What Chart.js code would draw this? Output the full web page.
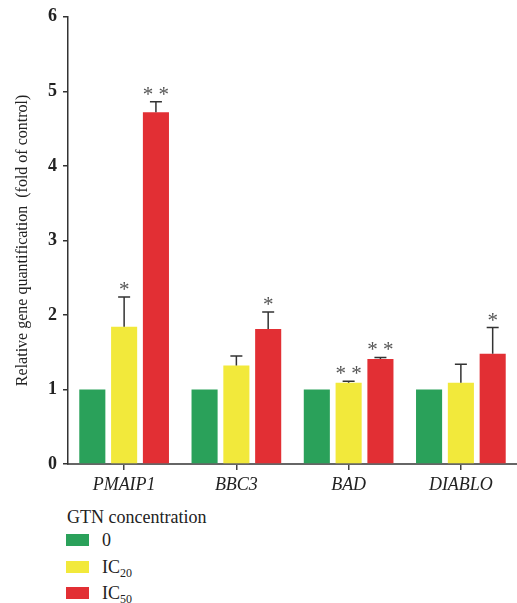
<!DOCTYPE html>
<html>
<head>
<meta charset="utf-8">
<script src="https://cdn.jsdelivr.net/npm/chart.js@4"></script>
<style>
  body { margin: 0; background: #fff; }
  #wrap { position: relative; width: 517px; height: 603px; }
  canvas { display: block; }
  #legend { position: absolute; left: 66px; top: 507px; font-family: "Liberation Serif", "DejaVu Serif", serif; font-size: 18px; color: #222; }
  #legend .title { margin-left: 1px; height: 20px; line-height: 20px; }
  #legend .item { display: flex; align-items: center; height: 26.5px; line-height: 20px; }
  #legend .box { width: 23px; height: 12px; margin-right: 13px; }
  #legend sub { font-size: 12px; vertical-align: -4px; line-height: 0; }
</style>
</head>
<body>
<div id="wrap">
  <canvas id="geneChart" width="517" height="505"></canvas>
  <div id="legend">
    <div class="title">GTN concentration</div>
  </div>
</div>
<script>
// data
const categories = ['PMAIP1', 'BBC3', 'BAD', 'DIABLO'];
const control = [1, 1, 1, 1];
const ic20 = [1.84, 1.32, 1.09, 1.09];
const ic50 = [4.72, 1.81, 1.41, 1.48];
const controlErr = [0, 0, 0, 0];
const ic20Err = [0.40, 0.13, 0.02, 0.25];
const ic50Err = [0.14, 0.23, 0.02, 0.35];
const controlSig = ['', '', '', ''];
const ic20Sig = ['*', '', '* *', ''];
const ic50Sig = ['* *', '*', '* *', '*'];
const yTicks = [0, 1, 2, 3, 4, 5, 6];

const seriesNames = ['0', 'IC<sub>20</sub>', 'IC<sub>50</sub>'];
const colors = ['#2aa15a', '#f2e93b', '#e22f34'];

const errorBars = {
  id: 'errorBars',
  afterDatasetsDraw: (chart) => {
    const { ctx, scales: { y } } = chart;
    ctx.save();
    chart.data.datasets.forEach((ds, i) => {
      const meta = chart.getDatasetMeta(i);
      meta.data.forEach((bar, j) => {
        const top = ds.data[j] + ds.err[j];
        const yTop = y.getPixelForValue(top);
        if (ds.err[j] > 0) {
          ctx.strokeStyle = '#333';
          ctx.lineWidth = 1.5;
          ctx.beginPath();
          ctx.moveTo(bar.x, bar.y);
          ctx.lineTo(bar.x, yTop);
          ctx.moveTo(bar.x - 6, yTop);
          ctx.lineTo(bar.x + 6, yTop);
          ctx.stroke();
        }
        if (ds.sig[j]) {
          ctx.fillStyle = '#555';
          ctx.font = '21px "Liberation Serif", serif';
          ctx.textAlign = 'center';
          ctx.textBaseline = 'alphabetic';
          ctx.fillText(ds.sig[j], bar.x, yTop - 1);
        }
      });
    });
    ctx.restore();
  }
};

const makeSet = (label, data, err, sig, color) => ({
  label: label,
  data: data,
  err: err,
  sig: sig,
  backgroundColor: color,
  borderWidth: 0,
  barPercentage: 0.82,
  categoryPercentage: 0.85
});

const chart = new Chart(document.getElementById('geneChart'), {
  type: 'bar',
  data: {
    labels: categories,
    datasets: [
      makeSet('0', control, controlErr, controlSig, colors[0]),
      makeSet('IC20', ic20, ic20Err, ic20Sig, colors[1]),
      makeSet('IC50', ic50, ic50Err, ic50Sig, colors[2])
    ]
  },
  options: {
    responsive: false,
    animation: false,
    layout: { padding: { top: 5, right: 0, left: 0, bottom: 0 } },
    plugins: {
      legend: { display: false },
      tooltip: { enabled: false }
    },
    scales: {
      x: {
        grid: { display: true, offset: false, drawOnChartArea: false, tickLength: 6, color: '#444', lineWidth: 1.5 },
        border: { color: '#666', width: 2 },
        ticks: {
          color: '#222',
          padding: 4,
          font: { family: 'Liberation Serif', size: 18, style: 'italic' }
        },
        afterFit: (scale) => { scale.height = 41; }
      },
      y: {
        min: 0,
        max: 6,
        afterBuildTicks: (scale) => { scale.ticks = yTicks.map(v => ({ value: v })); },
        grid: { display: true, drawOnChartArea: false, tickLength: 5, color: '#333', lineWidth: 1.5 },
        border: { color: '#333', width: 1.5 },
        ticks: {
          color: '#222',
          padding: 6,
          font: { family: 'Liberation Serif', size: 18, weight: 'bold' }
        },
        title: {
          display: true,
          text: 'Relative gene quantification  (fold of control)',
          color: '#222',
          padding: { top: 13, bottom: 0 },
          font: { family: 'Liberation Serif', size: 16 }
        },
        afterFit: (scale) => { scale.width = 68; }
      }
    }
  },
  plugins: [errorBars]
});

// html legend below the canvas
const legendEl = document.getElementById('legend');
seriesNames.forEach((name, i) => {
  const row = document.createElement('div');
  row.className = 'item';
  row.innerHTML = `<span class="box" style="background:${colors[i]}"></span><span>${name}</span>`;
  legendEl.appendChild(row);
});
</script>
</body>
</html>
